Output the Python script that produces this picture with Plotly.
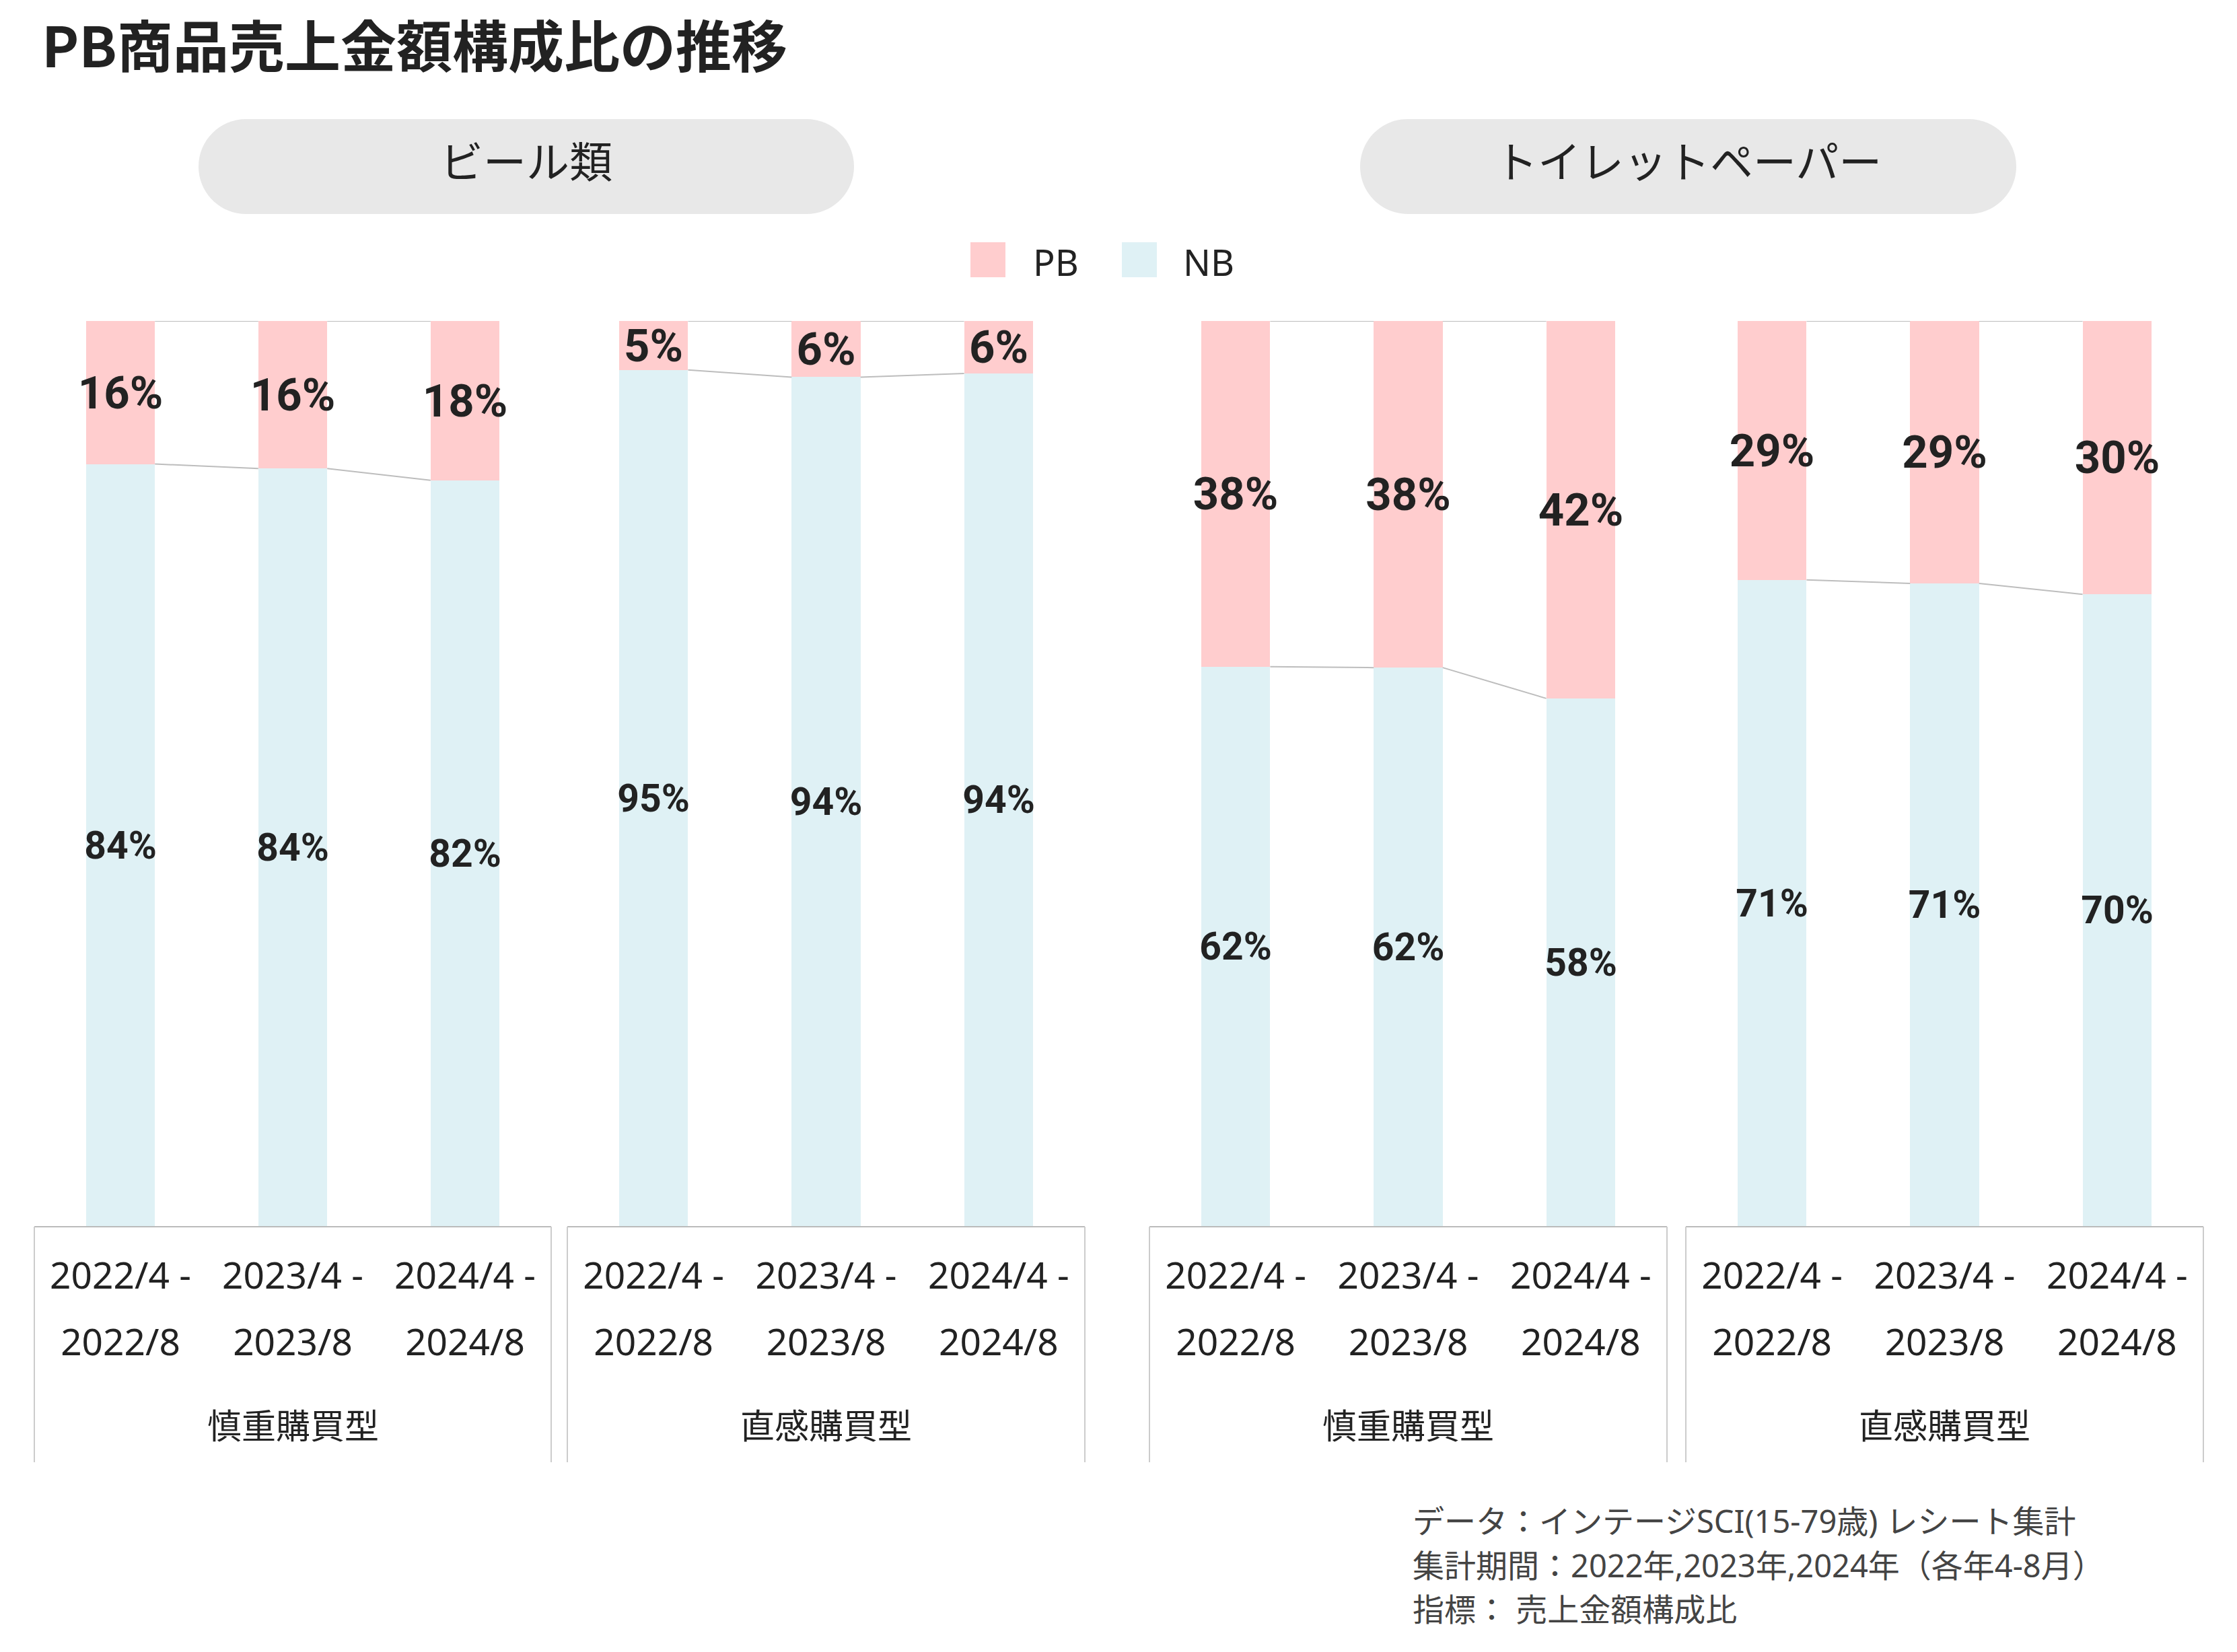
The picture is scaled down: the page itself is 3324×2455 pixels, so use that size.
import plotly.graph_objects as go

# ---------------- data ----------------
categories = ["ビール類", "トイレットペーパー"]
segments = ["慎重購買型", "直感購買型"]
period_start = ["2022/4 -", "2023/4 -", "2024/4 -"]
period_end = ["2022/8", "2023/8", "2024/8"]
series_names = ["PB", "NB"]

pb_beer_careful = [15.8, 16.3, 17.6]
nb_beer_careful = [84.2, 83.7, 82.4]
pb_beer_impulse = [5.4, 6.2, 5.8]
nb_beer_impulse = [94.6, 93.8, 94.2]
pb_tp_careful = [38.2, 38.3, 41.7]
nb_tp_careful = [61.8, 61.7, 58.3]
pb_tp_impulse = [28.6, 29.0, 30.2]
nb_tp_impulse = [71.4, 71.0, 69.8]

title_text = "PB商品売上金額構成比の推移"
notes = [
    "データ：インテージSCI(15-79歳) レシート集計",
    "集計期間：2022年,2023年,2024年（各年4-8月）",
    "指標： 売上金額構成比",
]

# ---------------- style ----------------
W, H = 3324, 2455
PB_COLOR = "#ffcdce"
NB_COLOR = "#dff1f5"
TXT = "#222222"
CJK = "Noto Sans CJK JP"
MIX = "Noto Sans, Noto Sans CJK JP"
NUMFONT = "Roboto"
CONNECT = "#bdbdbd"


def px(x):
    return x / W


def py(y):
    return 1 - y / H


panels = [
    (nb_beer_careful, pb_beer_careful, segments[0]),
    (nb_beer_impulse, pb_beer_impulse, segments[1]),
    (nb_tp_careful, pb_tp_careful, segments[0]),
    (nb_tp_impulse, pb_tp_impulse, segments[1]),
]
x_domains_px = [(51, 819), (843, 1612), (1708, 2477), (2505, 3274)]
y_bottom_px, y_top_px = 1822, 477
BAR_W = 0.4

fig = go.Figure()
shapes = []
annotations = []

xpos = list(range(len(period_start)))
ticktext = [
    f"<span style='font-size:55px'>{s}</span><br><span style='font-size:55px'>{e}</span>"
    for s, e in zip(period_start, period_end)
]

for k, (nb, pb, seg) in enumerate(panels, start=1):
    xa = "x" if k == 1 else f"x{k}"
    ya = "y" if k == 1 else f"y{k}"
    fig.add_trace(go.Bar(
        x=xpos, y=nb, name=series_names[1], width=BAR_W, xaxis=xa, yaxis=ya,
        marker=dict(color=NB_COLOR, line=dict(width=0)),
        texttemplate="%{y:.0f}%", textposition="inside", insidetextanchor="middle",
        textangle=0, constraintext="none",
        textfont=dict(family=NUMFONT, size=57, color=TXT, weight="bold"),
        showlegend=False, hoverinfo="skip",
    ))
    fig.add_trace(go.Bar(
        x=xpos, y=pb, name=series_names[0], width=BAR_W, xaxis=xa, yaxis=ya,
        marker=dict(color=PB_COLOR, line=dict(width=0)),
        texttemplate="%{y:.0f}%", textposition="inside", insidetextanchor="middle",
        textangle=0, constraintext="none",
        textfont=dict(family=NUMFONT, size=67, color=TXT, weight="bold"),
        showlegend=False, hoverinfo="skip",
    ))
    # connector lines between neighbouring bars
    tops = [a + b for a, b in zip(nb, pb)]
    cx, cy = [], []
    for i in range(len(xpos) - 1):
        for level in (nb, tops):
            cx += [xpos[i] + BAR_W / 2, xpos[i + 1] - BAR_W / 2, None]
            cy += [level[i], level[i + 1], None]
    fig.add_trace(go.Scatter(
        x=cx, y=cy, mode="lines", xaxis=xa, yaxis=ya,
        line=dict(color=CONNECT, width=2), showlegend=False, hoverinfo="skip",
    ))

    d0, d1 = x_domains_px[k - 1]
    fig.update_layout(**{
        ("xaxis" if k == 1 else f"xaxis{k}"): dict(
            domain=[px(d0), px(d1)], anchor=ya, range=[-0.5, 2.5],
            tickvals=xpos, ticktext=ticktext, ticks="",
            tickfont=dict(family=MIX, size=76, color=TXT),
            showline=True, linecolor="#bbbbbb", linewidth=2,
            showgrid=False, zeroline=False, fixedrange=True,
        ),
        ("yaxis" if k == 1 else f"yaxis{k}"): dict(
            domain=[py(y_bottom_px), py(y_top_px)], anchor=xa, range=[0, 100],
            visible=False, fixedrange=True,
        ),
    })
    # group label under the period labels
    annotations.append(dict(
        text=seg, x=0.5, xref=f"{xa} domain", y=py(2116), yref="paper",
        xanchor="center", yanchor="middle", showarrow=False,
        font=dict(family=CJK, size=51, color=TXT),
    ))
    # divider lines framing the axis labels
    for xd in (0, 1):
        shapes.append(dict(
            type="line", xref=f"{xa} domain", yref="paper",
            x0=xd, x1=xd, y0=py(1823), y1=py(2173),
            line=dict(color="#cccccc", width=2),
        ))


# ---------------- category pills ----------------
def pill_path(x0, x1, y0, y1):
    r = (y1 - y0) / 2
    k = 0.5523 * r
    ym = (y0 + y1) / 2
    pts = [
        f"M{px(x0 + r)},{py(y0)}",
        f"L{px(x1 - r)},{py(y0)}",
        f"C{px(x1 - r + k)},{py(y0)} {px(x1)},{py(ym - k)} {px(x1)},{py(ym)}",
        f"C{px(x1)},{py(ym + k)} {px(x1 - r + k)},{py(y1)} {px(x1 - r)},{py(y1)}",
        f"L{px(x0 + r)},{py(y1)}",
        f"C{px(x0 + r - k)},{py(y1)} {px(x0)},{py(ym + k)} {px(x0)},{py(ym)}",
        f"C{px(x0)},{py(ym - k)} {px(x0 + r - k)},{py(y0)} {px(x0 + r)},{py(y0)}",
        "Z",
    ]
    return " ".join(pts)


pills_px = [(295, 1269), (2021, 2996)]
for cat, (a, b) in zip(categories, pills_px):
    shapes.append(dict(
        type="path", xref="paper", yref="paper", path=pill_path(a, b, 177, 318),
        fillcolor="#e8e8e8", line=dict(width=0), layer="below",
    ))
    annotations.append(dict(
        text=cat, x=px((a + b) / 2), y=py(236), xref="paper", yref="paper",
        xanchor="center", yanchor="middle", showarrow=False,
        font=dict(family=CJK, size=64, color=TXT),
    ))

# ---------------- custom legend ----------------
legend_items = [(series_names[0], PB_COLOR, 1442, 1533), (series_names[1], NB_COLOR, 1667, 1756)]
for name, col, sx, tx in legend_items:
    shapes.append(dict(
        type="rect", xref="paper", yref="paper",
        x0=px(sx), x1=px(sx + 52), y0=py(412), y1=py(360),
        fillcolor=col, line=dict(width=0),
    ))
    annotations.append(dict(
        text=name, x=px(tx), y=py(389), xref="paper", yref="paper",
        xanchor="left", yanchor="middle", showarrow=False,
        font=dict(family=MIX, size=54, color=TXT),
    ))

# ---------------- footnote ----------------
for line, yc in zip(notes, (2260, 2326, 2391)):
    annotations.append(dict(
        text=line, x=px(2097), y=py(yc), xref="paper", yref="paper",
        xanchor="left", yanchor="middle", showarrow=False,
        font=dict(family=MIX, size=47, color="#444444"),
    ))

# ---------------- title ----------------
annotations.append(dict(
    text=f"<b>{title_text}</b>", x=px(60), y=py(64), xref="paper", yref="paper",
    xanchor="left", yanchor="middle", showarrow=False,
    font=dict(family=CJK, size=83, color=TXT),
))

fig.update_layout(
    width=W, height=H, autosize=False,
    margin=dict(l=0, r=0, t=0, b=0),
    paper_bgcolor="white", plot_bgcolor="white",
    barmode="stack", bargap=0,
    showlegend=False,
    font=dict(family=CJK, color=TXT),
    shapes=shapes, annotations=annotations,
)

fig.write_html(
    "out.html",
    config={"displayModeBar": False},
    post_script="document.body.style.margin='0';document.body.style.overflow='hidden';",
)
